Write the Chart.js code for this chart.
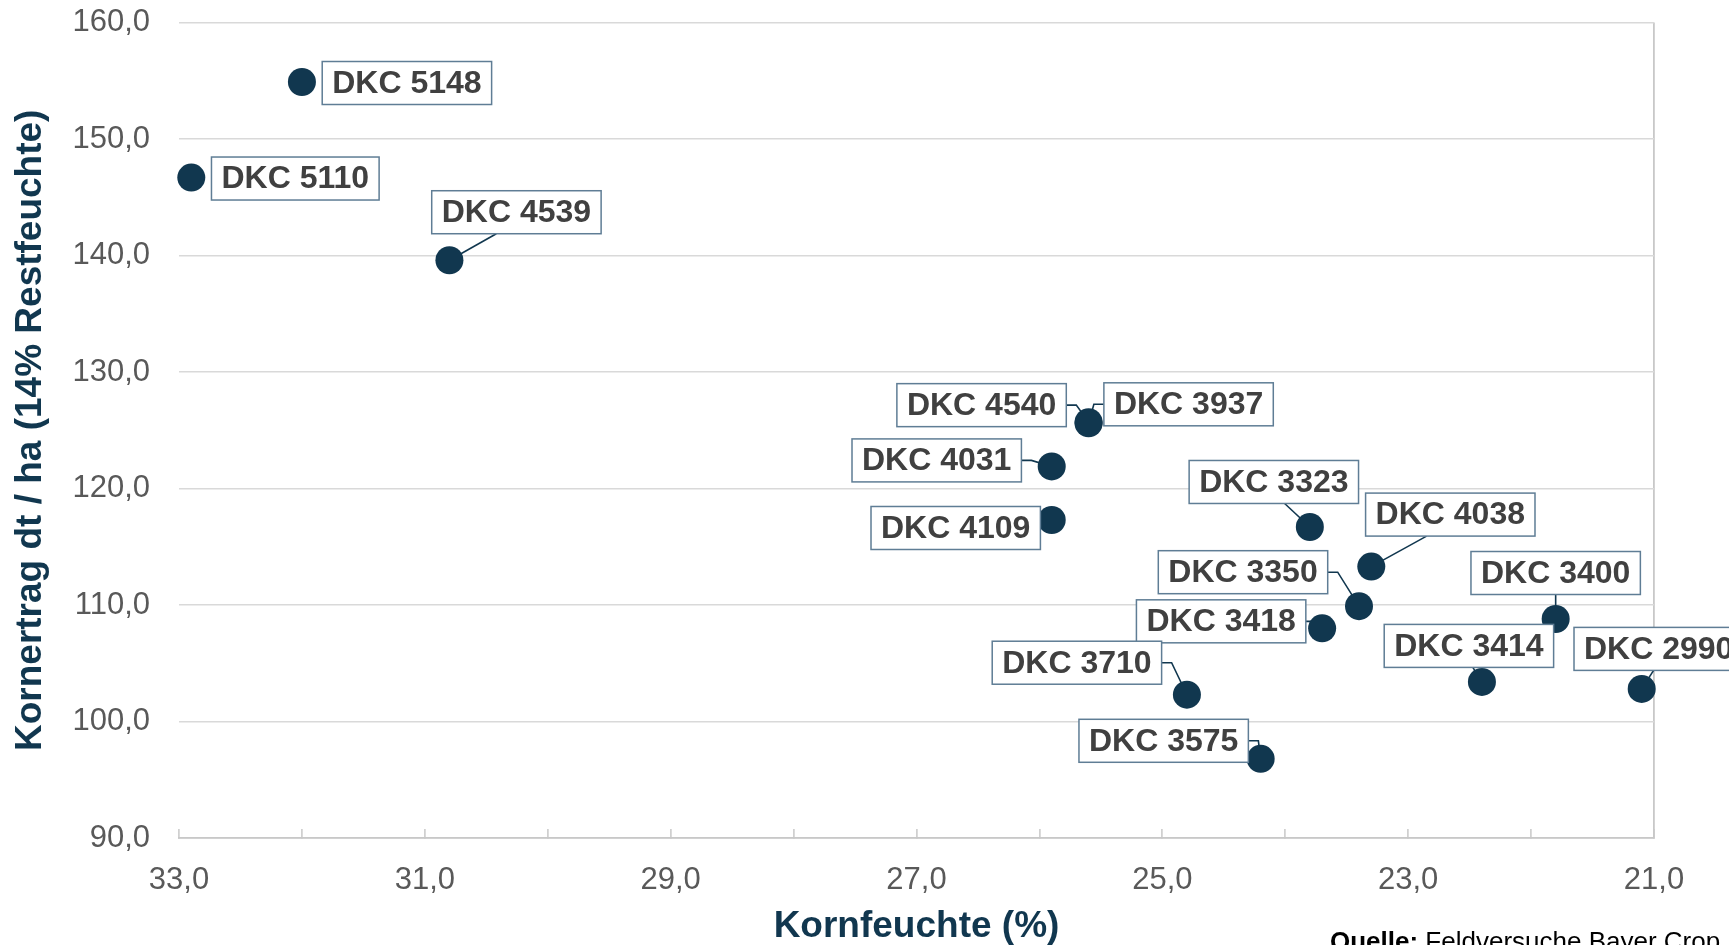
<!DOCTYPE html>
<html>
<head>
<meta charset="utf-8">
<script src="https://cdn.jsdelivr.net/npm/chart.js@4/dist/chart.umd.min.js"></script>
<style>
    html, body { margin: 0; padding: 0; background: #fff; overflow: hidden; }
    #wrap { width: 1729px; height: 945px; overflow: hidden; }
    /* Zeichenflaeche etwas hoeher, damit oben kein Leerraum bleibt */
    #graficasorten { display: block; margin-top: -25px; }
</style>
</head>
<body>
<div id="wrap"><canvas id="graficasorten" width="1729" height="970"></canvas></div>
<script>
var sorten = ['DKC 5148', 'DKC 5110', 'DKC 4539', 'DKC 4540', 'DKC 3937', 'DKC 4031', 'DKC 4109', 'DKC 3323',
              'DKC 4038', 'DKC 3350', 'DKC 3418', 'DKC 3400', 'DKC 3710', 'DKC 3414', 'DKC 2990', 'DKC 3575'];
var kornfeuchte = [32.0, 32.9, 30.8, 25.6, 25.6, 25.9, 25.9, 23.8, 23.3, 23.4, 23.7, 21.8, 24.8, 22.4, 21.1, 24.2];
var kornertrag = [154.9, 146.7, 139.6, 125.7, 125.6, 121.9, 117.3, 116.7, 113.3, 109.9, 108.0, 108.8, 102.3, 103.4, 102.8, 96.8];
var xTicks = [33, 31, 29, 27, 25, 23, 21];
var yTicks = [90, 100, 110, 120, 130, 140, 150, 160];

// Lage der Etiketten relativ zum Punkt (px) und Seite der Fuehrungslinie
var labelOffsets = [[105, 1, ''], [104, 1, ''], [67, -48, 'b'], [-107, -17, 'r'], [100, -19, 'l'], [-115, -6, 'r'],
                    [-96, 8, ''], [-36, -45, 'b'], [79, -52, 'b'], [-116, -34, 'r'], [-101, -7, 'r'], [0, -46, 'b'],
                    [-110, -32, 'r'], [-13, -36, 'b'], [17, -40, 'b'], [-97, -18, 'r']];

var navy = '#11374f';
var fmt = function(v){ return Number(v).toFixed(1).replace('.', ','); };

function boxFor(ctx, pt, i){
    var w = ctx.measureText(sorten[i]).width + 20;
    var h = 43;
    var cx = pt.x + labelOffsets[i][0], cy = pt.y + labelOffsets[i][1];
    return {cx: cx, cy: cy, l: cx - w / 2, r: cx + w / 2, t: cy - h / 2, b: cy + h / 2, w: w, h: h};
}

var etiketten = {
    id: 'etiketten',
    beforeDatasetsDraw: function(chart){
        var ctx = chart.ctx;
        var meta = chart.getDatasetMeta(0);
        ctx.save();
        ctx.font = 'bold 32px "Liberation Sans", Arial, sans-serif';
        ctx.strokeStyle = navy;
        ctx.lineWidth = 1.6;
        meta.data.forEach(function(pt, i){
            var side = labelOffsets[i][2];
            if (!side) return;
            var b = boxFor(ctx, pt, i);
            ctx.beginPath();
            if (side === 'r') { ctx.moveTo(b.r, b.cy); ctx.lineTo(b.r + 10, b.cy); }
            else if (side === 'l') { ctx.moveTo(b.l, b.cy); ctx.lineTo(b.l - 10, b.cy); }
            else { ctx.moveTo(b.cx + (pt.x - b.cx) * 0.3, b.b); }
            ctx.lineTo(pt.x, pt.y);
            ctx.stroke();
        });
        ctx.restore();
    },
    afterDatasetsDraw: function(chart){
        var ctx = chart.ctx;
        var meta = chart.getDatasetMeta(0);
        ctx.save();
        ctx.font = 'bold 32px "Liberation Sans", Arial, sans-serif';
        ctx.textAlign = 'center';
        ctx.textBaseline = 'middle';
        meta.data.forEach(function(pt, i){
            var b = boxFor(ctx, pt, i);
            ctx.fillStyle = '#ffffff';
            ctx.fillRect(b.l, b.t, b.w, b.h);
            ctx.strokeStyle = '#5f7d95';
            ctx.lineWidth = 1.5;
            ctx.strokeRect(b.l, b.t, b.w, b.h);
            ctx.fillStyle = '#404040';
            ctx.fillText(sorten[i], b.cx, b.cy + 1);
        });
        ctx.restore();
    },
    afterDraw: function(chart){
        var ctx = chart.ctx;
        ctx.save();
        ctx.fillStyle = '#000000';
        ctx.textBaseline = 'alphabetic';
        ctx.font = 'bold 26px "Liberation Sans", Arial, sans-serif';
        ctx.fillText('Quelle:', 1330, 975);
        var w = ctx.measureText('Quelle:').width;
        ctx.font = '26px "Liberation Sans", Arial, sans-serif';
        ctx.fillText(' Feldversuche Bayer Crop Science', 1330 + w, 975);
        ctx.restore();
    }
};

var punkte = kornfeuchte.map(function(x, i){ return {x: x, y: kornertrag[i]}; });

var ctx1 = document.getElementById('graficasorten').getContext('2d');
var chart = new Chart(ctx1, {
    type: 'scatter',
    data: {
        datasets: [{
            label: 'Sorten',
            data: punkte,
            backgroundColor: navy,
            borderWidth: 0,
            pointRadius: 14,
            pointHoverRadius: 14,
            clip: false
        }]
    },
    options: {
        responsive: false,
        animation: false,
        layout: { autoPadding: false, padding: {left: 0, top: 0, right: 75, bottom: 0} },
        plugins: { legend: {display: false}, tooltip: {enabled: false} },
        scales: {
            x: {
                type: 'linear',
                reverse: true,
                min: xTicks[xTicks.length - 1],
                max: xTicks[0],
                afterFit: function(axis){ axis.height = 107; },
                ticks: {
                    stepSize: 1,
                    autoSkip: false,
                    maxRotation: 0,
                    padding: 33,
                    color: '#595959',
                    font: {family: '"Liberation Sans", Arial, sans-serif', size: 31},
                    callback: function(v){ return xTicks.indexOf(v) >= 0 ? fmt(v) : ''; }
                },
                grid: {
                    color: function(c){ return c.tick && c.tick.value === 21 ? '#c8c8c8' : 'rgba(0,0,0,0)'; },
                    lineWidth: 1.8,
                    drawTicks: true,
                    tickLength: -9,
                    tickColor: '#c8c8c8',
                    tickWidth: 1.5
                },
                border: { display: true, color: '#c8c8c8', width: 1.8 },
                title: {
                    display: true,
                    text: 'Kornfeuchte (%)',
                    color: navy,
                    font: {family: '"Liberation Sans", Arial, sans-serif', size: 37, weight: 'bold', lineHeight: 1.0},
                    padding: {top: 0, bottom: 0}
                }
            },
            y: {
                min: yTicks[0],
                max: yTicks[yTicks.length - 1],
                afterFit: function(axis){ axis.width = 179; },
                ticks: {
                    stepSize: 10,
                    padding: 29,
                    color: '#595959',
                    font: {family: '"Liberation Sans", Arial, sans-serif', size: 31},
                    callback: function(v){ return fmt(v); }
                },
                grid: { color: '#d9d9d9', lineWidth: 1.5, drawTicks: false },
                border: { display: false },
                title: {
                    display: true,
                    text: 'Kornertrag dt / ha (14% Restfeuchte)',
                    color: navy,
                    font: {family: '"Liberation Sans", Arial, sans-serif', size: 37, weight: 'bold', lineHeight: 1.2},
                    padding: {top: 9, bottom: 0}
                }
            }
        }
    },
    plugins: [etiketten]
});
</script>
</body>
</html>
